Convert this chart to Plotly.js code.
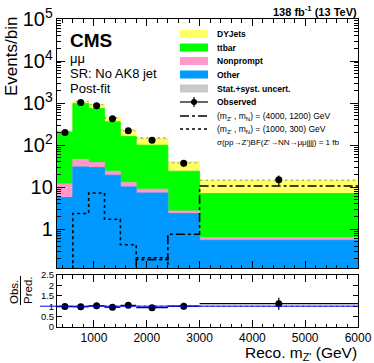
<!DOCTYPE html>
<html>
<head>
<meta charset="utf-8">
<script src="https://cdn.plot.ly/plotly-3.0.1.min.js"></script>
<style>html,body{margin:0;padding:0;background:#fff}</style>
</head>
<body>
<div id="plot" style="width:374px;height:363px"></div>
<script>
/* bin edges of reco m_Z' (GeV) */
var edges=[300,600,900,1200,1500,1800,2400,3000,6000];
/* post-fit backgrounds, events per bin */
var other=[5.7,30.4,29.4,19.3,10.2,7.3,2.37,0.55];
var nonprompt=[6.3,15.6,9.3,4.7,2.7,1.7,0.36,0.085];
var ttbar=[193,938,709,335,148,91,21.3,6.45];
var dyjets=[7,113,173,88,63,47,14.7,7.6];
var relUnc=[0.05,0.04,0.04,0.05,0.05,0.06,0.05,0.04];
/* data */
var observed=[200,1040,863,423,219,131,37,15];
var obsErr=[14,32,29,21,15,11.5,6,3.9];
var ratio=[0.98,0.97,1.02,0.95,1.04,0.93,1.0,1.12];
var ratioErr=[0.07,0.03,0.035,0.05,0.07,0.09,0.16,0.29];
/* signals, sigma*BF = 1 fb */
var sigA=[0.01,0.01,0.01,0.01,0.01,0.19,0.76,10.7]; /* (4000,1200) */
var sigB=[0.01,2.37,7.3,1.73,0.43,0.21,0.01,0.01]; /* (1000,300) */

var FONT='Liberation Sans, Arial, sans-serif';

var centers=[],widths=[],halfW=[];
for(var i=0;i<edges.length-1;i++){
    centers.push((edges[i]+edges[i+1])/2);
    widths.push(edges[i+1]-edges[i]);
    halfW.push((edges[i+1]-edges[i])/2);
}
/* cumulative stack */
var c1=[],c2=[],c3=[],c4=[],uBase=[],uH=[],rBase=[],rH=[];
for(i=0;i<other.length;i++){
    c1[i]=other[i];
    c2[i]=c1[i]+nonprompt[i];
    c3[i]=c2[i]+ttbar[i];
    c4[i]=c3[i]+dyjets[i];
    uBase[i]=c4[i]*(1-relUnc[i]);
    uH[i]=2*c4[i]*relUnc[i];
    rBase[i]=1-relUnc[i];
    rH[i]=2*relUnc[i];
}
function step(v){ return v.concat([v[v.length-1]]); }

function stackBar(y,color){
    return {type:'bar',x:centers,y:y,width:widths,xaxis:'x2',yaxis:'y2',
        marker:{color:color,line:{width:0.8,color:color}},showlegend:false,hoverinfo:'skip'};
}
var hatch={shape:'x',size:4,solidity:0.25,fgcolor:'#555',bgcolor:'rgba(0,0,0,0)',fillmode:'replace'};

var data=[
    stackBar(c4,'#ffff66'),
    stackBar(c3,'#00ff00'),
    stackBar(c2,'#ff99cc'),
    stackBar(c1,'#0099ff'),
    {type:'bar',x:centers,y:uH,base:uBase,width:widths,xaxis:'x2',yaxis:'y2',
        marker:{color:'rgba(0,0,0,0)',pattern:hatch,line:{width:0}},showlegend:false},
    {type:'scatter',mode:'lines',x:edges,y:step(sigA),xaxis:'x2',yaxis:'y2',
        line:{shape:'hv',color:'#000',width:1.6,dash:'dashdot'},showlegend:false},
    {type:'scatter',mode:'lines',x:edges,y:step(sigB),xaxis:'x2',yaxis:'y2',
        line:{shape:'hv',color:'#000',width:1.6,dash:'dot'},showlegend:false},
    {type:'scatter',mode:'markers',x:centers,y:observed,xaxis:'x2',yaxis:'y2',
        marker:{color:'#000',size:7},
        error_y:{type:'data',array:obsErr,color:'#000',thickness:1.2,width:0},showlegend:false},
    /* ratio panel */
    {type:'bar',x:centers,y:rH,base:rBase,width:widths,xaxis:'x',yaxis:'y',
        marker:{color:'rgba(0,0,0,0)',pattern:hatch,line:{width:0}},showlegend:false},
    {type:'scatter',mode:'markers',x:centers,y:ratio,xaxis:'x',yaxis:'y',
        marker:{color:'#000',size:7},
        error_x:{type:'data',array:halfW,color:'#000',thickness:1.2,width:0},
        error_y:{type:'data',array:ratioErr,color:'#000',thickness:1.2,width:0},showlegend:false}
];

/* pixel -> paper helpers (plot area 57..358 x 19..327) */
function px(x){ return (x-57)/301; }
function py(y){ return (327-y)/308; }

var shapes=[
    {type:'line',xref:'paper',yref:'y',x0:px(40),x1:1,y0:1,y1:1,line:{color:'#0000ff',width:1}},
    /* obs/pred fraction bar */
    {type:'line',xref:'paper',yref:'paper',x0:px(20.5),x1:px(20.5),y0:py(276),y1:py(305),line:{color:'#000',width:1}}
];
var ann=[];
function txt(x,y,t,size,opt){
    var a={xref:'paper',yref:'paper',x:px(x),y:py(y),text:t,showarrow:false,
        xanchor:'left',yanchor:'middle',font:{family:FONT,size:size,color:'#000'}};
    for(var k in opt) a[k]=opt[k];
    ann.push(a);
}
/* legend (manual, ROOT style) */
var legBoxes=[['#ffff66','DYJets',34],['#00ff00','ttbar',47.5],['#ff99cc','Nonprompt',61],['#0099ff','Other',74.5],['#c9c9c9','Stat.+syst. uncert.',88.5]];
legBoxes.forEach(function(b){
    shapes.push({type:'rect',xref:'paper',yref:'paper',x0:px(180),x1:px(208),y0:py(b[2]-4),y1:py(b[2]+4),
        fillcolor:b[0],line:{width:0}});
    txt(215,b[2],'<b>'+b[1]+'</b>',8.5);
});
shapes.push({type:'line',xref:'paper',yref:'paper',x0:px(180),x1:px(208),y0:py(102),y1:py(102),line:{color:'#000',width:1.2}});
shapes.push({type:'line',xref:'paper',yref:'paper',x0:px(194),x1:px(194),y0:py(97),y1:py(107),line:{color:'#000',width:1.2}});
shapes.push({type:'circle',xref:'paper',yref:'paper',x0:px(191),x1:px(197),y0:py(99),y1:py(105),fillcolor:'#000',line:{width:0}});
txt(215,102,'<b>Observed</b>',8.5);
shapes.push({type:'line',xref:'paper',yref:'paper',x0:px(180),x1:px(208),y0:py(116),y1:py(116),line:{color:'#000',width:1.4,dash:'dashdot'}});
txt(215,116,'(m<sub>Z\'</sub> , m<sub>N</sub>) = (4000, 1200) GeV',8.5);
shapes.push({type:'line',xref:'paper',yref:'paper',x0:px(180),x1:px(208),y0:py(129),y1:py(129),line:{color:'#000',width:1.4,dash:'dot'}});
txt(215,129,'(m<sub>Z\'</sub> , m<sub>N</sub>) = (1000, 300) GeV',8.5);
txt(215,142,'σ(pp→Z\')BF(Z\'→NN→μμjjjj) = 1 fb',8);

/* labels */
txt(68,40,'<b>CMS</b>',19);
txt(68,58,'μμ',13);
txt(68,73,'SR: No AK8 jet',13);
txt(68,88,'Post-fit',13);
txt(359,11,'<b>138 fb<sup>-1</sup> (13 TeV)</b>',11,{xanchor:'right'});
txt(12,57,'Events/bin',17,{xanchor:'center',textangle:-90});
txt(14,292,'Obs.',11.5,{xanchor:'center',textangle:-90});
txt(28,290,'Pred.',11.5,{xanchor:'center',textangle:-90});
txt(359,354,'Reco. m<sub>Z\'</sub> (GeV)',15.5,{xanchor:'right'});

var axBase={showline:true,linecolor:'#000',linewidth:1,mirror:'allticks',ticks:'inside',
    showgrid:false,zeroline:false,tickcolor:'#000'};
function ax(o){ var a={}; for(var k in axBase) a[k]=axBase[k]; for(k in o) a[k]=o[k]; return a; }

var layout={
    width:374,height:363,
    margin:{l:57,r:16,t:19,b:36},
    paper_bgcolor:'#fff',plot_bgcolor:'#fff',
    font:{family:FONT,color:'#000'},
    barmode:'overlay',
    showlegend:false,
    xaxis:ax({domain:[0,1],anchor:'y',range:[300,6000],tick0:0,dtick:1000,ticklen:7,
        tickfont:{size:12},minor:{ticks:'inside',ticklen:3.5,tick0:0,dtick:200,tickcolor:'#000'}}),
    xaxis2:ax({domain:[0,1],anchor:'y2',matches:'x',showticklabels:false,tick0:0,dtick:1000,ticklen:7,
        minor:{ticks:'inside',ticklen:3.5,tick0:0,dtick:200,tickcolor:'#000'}}),
    yaxis:ax({domain:[0,py(275)],anchor:'x',range:[0,2.5],dtick:0.5,ticklen:5,tickfont:{size:9.5}}),
    yaxis2:ax({domain:[py(268),1],anchor:'x2',type:'log',range:[-0.92,5.0001],dtick:1,
        exponentformat:'power',ticklen:8,tickfont:{size:16},
        minor:{ticks:'inside',ticklen:4,tickcolor:'#000'}}),
    shapes:shapes,
    annotations:ann
};

Plotly.newPlot('plot',data,layout,{staticPlot:true});
</script>
</body>
</html>
